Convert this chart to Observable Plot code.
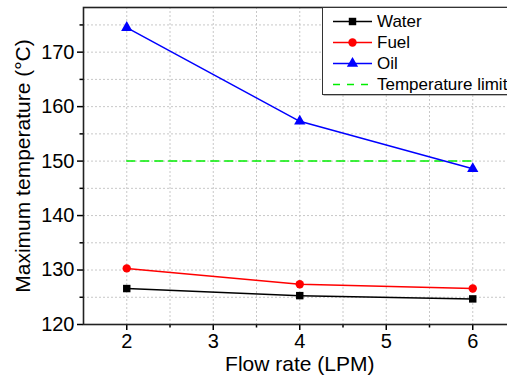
<!DOCTYPE html>
<html>
<head>
<meta charset="utf-8">
<script src="https://cdn.jsdelivr.net/npm/d3@7"></script>
<script src="https://cdn.jsdelivr.net/npm/@observablehq/plot@0.6"></script>
<style>
  html, body { margin: 0; padding: 0; background: white; overflow: hidden; }
</style>
</head>
<body>
<div id="chart"></div>
<script>
// Flow rate (LPM) and maximum temperature (°C) for each coolant
const flowRate = [2, 4, 6];
const water = [126.6, 125.3, 124.7];
const fuel = [130.3, 127.4, 126.6];
const oil = [174.5, 157.3, 148.6];
const limitTemp = 150;
const limitRange = [2, 6];

const seriesNames = ["Water", "Fuel", "Oil"];
const seriesColors = ["#000000", "#ff0000", "#0000ff"];
const seriesSymbols = ["square", "circle", "triangle"];
const limitName = "Temperature limit";
const limitColor = "#00ee00";

const xTicks = [2, 3, 4, 5, 6];
const xMinorTicks = [2.5, 3.5, 4.5, 5.5];
const xGrid = [2, 2.5, 3, 3.5, 4, 4.5, 5, 5.5, 6];
const yTicks = [120, 130, 140, 150, 160, 170];
const yMinorTicks = [125, 135, 145, 155, 165, 175];
const yGrid = [125, 130, 135, 140, 145, 150, 155, 160, 165, 170, 175];

const xLabel = "Flow rate (LPM)";
const yLabel = "Maximum temperature (°C)";

const rows = [water, fuel, oil].flatMap((vals, i) =>
  flowRate.map((f, j) => ({series: seriesNames[i], flow: f, temp: vals[j]}))
);
const limitRows = limitRange.map(f => ({flow: f, temp: limitTemp}));

const font = "'Liberation Sans', Arial, sans-serif";
const gridStyle = {stroke: "#c8c8c8", strokeWidth: 1, strokeDasharray: "2,2"};

const chart = Plot.plot({
  width: 507,
  height: 383,
  marginLeft: 83,
  marginRight: -8.5,
  marginTop: 7,
  marginBottom: 59,
  x: {domain: [1.5, 6.5], label: null},
  y: {domain: [120, 178.2], label: null},
  style: {fontFamily: font, fontSize: "20px", color: "black", background: "white", overflow: "hidden"},
  marks: [
    Plot.ruleX(xGrid, gridStyle),
    Plot.ruleY(yGrid, gridStyle),
    Plot.axisX(xTicks, {tickSize: 6, tickPadding: 3, fontSize: 20, label: null, strokeWidth: 1.5}),
    Plot.axisX(xMinorTicks, {tickSize: 3.5, tickFormat: () => "", label: null, strokeWidth: 1.5}),
    Plot.axisY(yTicks, {tickSize: 6, tickPadding: 3, fontSize: 20, label: null, strokeWidth: 1.5}),
    Plot.axisY(yMinorTicks, {tickSize: 3.5, tickFormat: () => "", label: null, strokeWidth: 1.5}),
    Plot.line(limitRows, {x: "flow", y: "temp", stroke: limitColor, strokeWidth: 1.5, strokeDasharray: "8,6"}),
    ...seriesNames.map((name, i) => Plot.line(rows.filter(d => d.series === name), {
      x: "flow", y: "temp", stroke: seriesColors[i], strokeWidth: 1.5
    })),
    ...seriesNames.map((name, i) => Plot.dot(rows.filter(d => d.series === name), {
      x: "flow", y: "temp", symbol: seriesSymbols[i], fill: seriesColors[i], stroke: "none", r: 4.2
    })),
    Plot.frame({stroke: "#222", strokeWidth: 1.6}),
    Plot.text([yLabel], {frameAnchor: "left", textAnchor: "middle", dx: -60, rotate: -90, fontSize: 21}),
    Plot.text([xLabel], {frameAnchor: "bottom", dy: 46, fontSize: 21})
  ]
});

document.getElementById("chart").appendChild(chart);

// Legend box inside the upper-right corner of the plot area
const svg = d3.select(chart);
const lg = svg.append("g").attr("font-family", font).attr("font-size", 17).attr("text-anchor", "start");
lg.append("rect").attr("x", 323.5).attr("y", 8.5).attr("width", 200).attr("height", 87).attr("fill", "#777");
lg.append("rect").attr("x", 322.5).attr("y", 7.5).attr("width", 200).attr("height", 87)
  .attr("fill", "white").attr("stroke", "#333").attr("stroke-width", 1);

const entries = seriesNames.map((name, i) => ({name, color: seriesColors[i], symbol: seriesSymbols[i]}))
  .concat([{name: limitName, color: limitColor, symbol: null, dash: "7,7"}]);
const symbolTypes = {square: d3.symbolSquare, circle: d3.symbolCircle, triangle: d3.symbolTriangle};

entries.forEach((e, i) => {
  const cy = 21.5 + i * 21;
  lg.append("line").attr("x1", 333).attr("x2", 372).attr("y1", cy).attr("y2", cy)
    .attr("stroke", e.color).attr("stroke-width", 1.5).attr("stroke-dasharray", e.dash || null);
  if (e.symbol) {
    lg.append("path").attr("transform", `translate(352.5,${cy})`)
      .attr("d", d3.symbol(symbolTypes[e.symbol], Math.PI * 4.2 * 4.2)())
      .attr("fill", e.color);
  }
  lg.append("text").attr("x", 377).attr("y", cy).attr("dy", "0.35em").attr("fill", "black").text(e.name);
});
</script>
</body>
</html>
